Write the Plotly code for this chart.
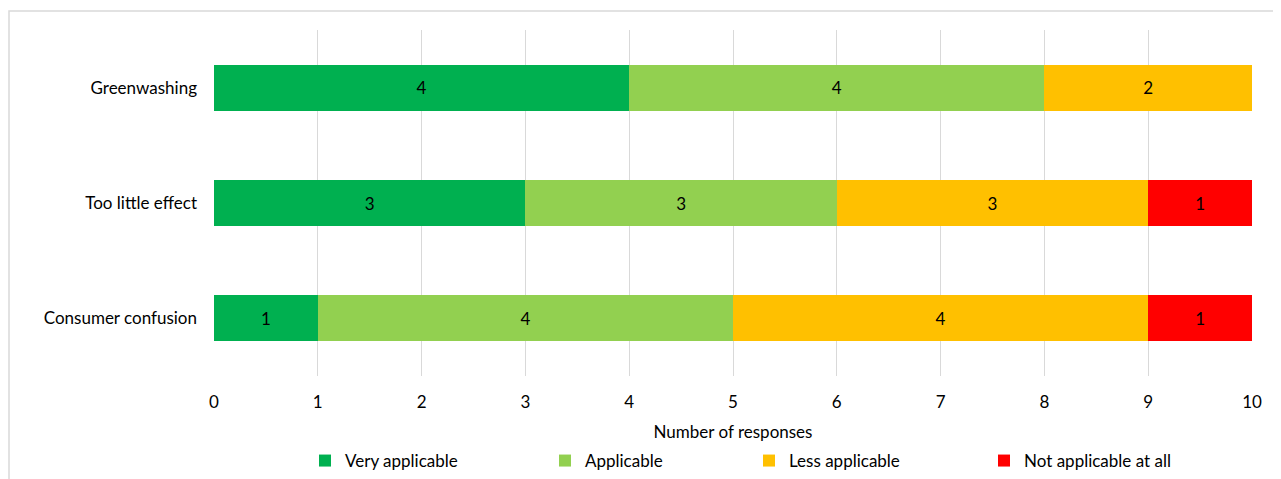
import plotly.graph_objects as go

categories = ["Consumer confusion", "Too little effect", "Greenwashing"]
series_names = ["Very applicable", "Applicable", "Less applicable", "Not applicable at all"]
very_applicable = [1, 3, 4]
applicable = [4, 3, 4]
less_applicable = [4, 3, 2]
not_applicable = [1, 1, 0]
colors = ["#00B050", "#92D050", "#FFC000", "#FF0000"]
tick_vals = list(range(0, 11))

FONT = "Lato, Calibri, Carlito, sans-serif"
FS = 17

OFF = 8  # default page body margin
PW, PH = 1038, 346
L, T = 214 - OFF, 30 - OFF
R = 1281 - L - PW
B = 479 - T - PH

legend_names = ["legend", "legend2", "legend3", "legend4"]
legend_px = [318, 558, 762, 997]  # left pixel of each legend marker (page coords)


def px_x(px):
    return (px - OFF - L) / PW


def px_y(py):
    return (T + PH - (py - OFF)) / PH


fig = go.Figure()
for name, vals, col, lg in zip(series_names,
                               [very_applicable, applicable, less_applicable, not_applicable],
                               colors, legend_names):
    fig.add_trace(go.Bar(
        y=categories, x=vals, name=name, orientation="h",
        marker=dict(color=col, line=dict(width=0)),
        text=[str(v) if v else "" for v in vals],
        textposition="inside", insidetextanchor="middle",
        textfont=dict(color="black", size=FS, family=FONT),
        width=0.4, legend=lg,
    ))

layout_legends = {}
for lg, px in zip(legend_names, legend_px):
    layout_legends[lg] = dict(
        orientation="h", x=px_x(px - 13), xanchor="left",
        y=px_y(461), yanchor="middle",
        font=dict(size=FS, family=FONT), itemclick=False,
        bgcolor="rgba(0,0,0,0)", itemwidth=30,
    )

fig.update_layout(
    barmode="stack",
    width=1281, height=479,
    margin=dict(l=L, r=R, t=T, b=B, autoexpand=False),
    paper_bgcolor="white", plot_bgcolor="white",
    font=dict(family=FONT, size=FS, color="#000000"),
    showlegend=True,
    xaxis=dict(range=[0, 10], tickvals=tick_vals, showgrid=True, gridcolor="#D9D9D9",
               gridwidth=1, zeroline=False, showline=False, ticks="",
               ticklabelstandoff=14,
               title=dict(text="Number of responses", standoff=15,
                          font=dict(size=FS, family=FONT))),
    yaxis=dict(showgrid=False, zeroline=False, showline=False, ticks="",
               ticklabelstandoff=16, range=[-0.5, 2.5]),
    bargap=0.6,
    **layout_legends,
)

fig.add_shape(type="rect", xref="paper", yref="paper",
              x0=px_x(OFF + 1), x1=px_x(1277),
              y0=px_y(495), y1=px_y(11),
              line=dict(color="#D9D9D9", width=1.5), fillcolor="rgba(0,0,0,0)", layer="below")

fig.write_html("out.html")
